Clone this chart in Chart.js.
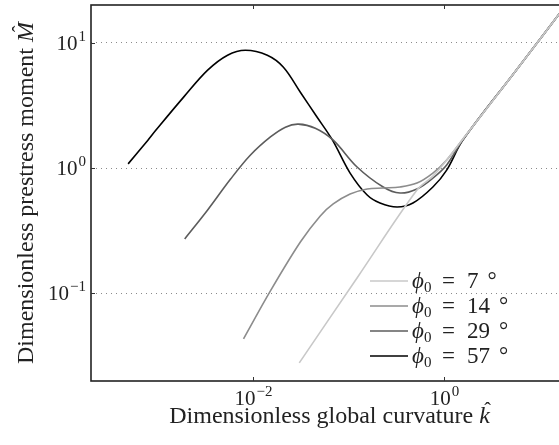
<!DOCTYPE html>
<html>
<head>
<meta charset="utf-8">
<script src="https://cdn.jsdelivr.net/npm/chart.js@4.4.0/dist/chart.umd.min.js"></script>
<style>
  html, body { margin: 0; padding: 0; background: #fff; overflow: hidden; }
  #wrap { width: 559px; height: 445px; overflow: hidden; }
</style>
</head>
<body>
<div id="wrap"><canvas id="chart" width="580" height="445"></canvas></div>
<script>
// Global curvature k and prestress moment M, one pair per phi0
const k7 = [0.0305, 0.126, 0.522, 0.767, 1.07, 1.6, 5.6, 20];
const m7 = [0.0279, 0.1365, 0.668, 0.863, 1.16, 1.72, 5.9, 21];

const k14 = [7.94e-3, 1.52e-2, 3.13e-2, 5.06e-2, 6.92e-2, 0.104, 0.157, 0.231, 0.347, 0.522, 0.767, 1.07, 1.6, 5.6, 20];
const m14 = [0.0434, 0.1047, 0.257, 0.415, 0.517, 0.621, 0.681, 0.693, 0.706, 0.759, 0.912, 1.16, 1.72, 5.9, 21];

const k29 = [1.92e-3, 3.34e-3, 5.81e-3, 9.39e-3, 1.52e-2, 2.18e-2, 2.98e-2, 4.49e-2, 6.92e-2, 0.123, 0.231, 0.347, 0.522, 0.767, 1.07, 1.6, 5.6, 20];
const m29 = [0.272, 0.463, 0.817, 1.27, 1.77, 2.12, 2.24, 2.08, 1.67, 1.02, 0.706, 0.632, 0.681, 0.832, 1.06, 1.7, 5.9, 21];

const k57 = [4.9e-4, 7.9e-4, 9.6e-4, 1.87e-3, 3.34e-3, 5.4e-3, 8.3e-3, 1.41e-2, 2.08e-2, 3.13e-2, 4.6e-2, 6.8e-2, 0.104, 0.157, 0.214, 0.323, 0.474, 0.767, 1.07, 1.58, 5.6, 20];
const m57 = [1.08, 1.67, 2.01, 3.68, 6.04, 7.95, 8.71, 7.95, 6.38, 4.03, 2.6, 1.67, 0.912, 0.609, 0.526, 0.489, 0.526, 0.706, 0.964, 1.67, 5.9, 21];

const phiLabels = ["7", "14", "29", "57"];
const phiColors = ["#c8c8c8", "#8c8c8c", "#5c5c5c", "#000000"];

// tick values and their exponents
const xTicks = [1e-2, 1];
const xTickExp = ["\u22122", "0"];
const yTicks = [0.1, 1, 10];
const yTickExp = ["\u22121", "0", "1"];

const serif = "'Liberation Serif', 'DejaVu Serif', serif";

function toPoints(ks, ms) {
  return ks.map((k, i) => ({ x: k, y: ms[i] }));
}

const datasets = [[k7, m7], [k14, m14], [k29, m29], [k57, m57]].map((s, i) => ({
  label: phiLabels[i],
  data: toPoints(s[0], s[1]),
  borderColor: phiColors[i],
  borderWidth: 1.6,
  pointRadius: 0,
  fill: false,
  tension: 0.35
}));

// draw "10" with a raised exponent
function drawPow(ctx, exp, x, base, align) {
  ctx.font = "21px " + serif;
  const w1 = ctx.measureText("10").width;
  ctx.font = "15px " + serif;
  const w2 = ctx.measureText(exp).width;
  let start = x;
  if (align === 'center') start = x - (w1 + w2) / 2;
  if (align === 'right') start = x - (w1 + w2);
  ctx.textAlign = 'left';
  ctx.textBaseline = 'alphabetic';
  ctx.font = "21px " + serif;
  ctx.fillText("10", start, base);
  ctx.font = "15px " + serif;
  ctx.fillText(exp, start + w1 + 1, base - 9);
}

// plain text followed by an italic symbol with a hat, centred on x
function drawTitle(ctx, text, sym, x, base) {
  ctx.textBaseline = 'alphabetic';
  ctx.textAlign = 'left';
  ctx.font = "24px " + serif;
  const w1 = ctx.measureText(text).width;
  ctx.font = "italic 24px " + serif;
  const w2 = ctx.measureText(sym).width;
  const start = x - (w1 + w2) / 2;
  ctx.fillStyle = '#222';
  ctx.font = "24px " + serif;
  ctx.fillText(text, start, base);
  ctx.font = "italic 24px " + serif;
  ctx.fillText(sym, start + w1, base);
  ctx.font = "20px " + serif;
  ctx.textAlign = 'center';
  ctx.fillText("\u02c6", start + w1 + w2 / 2 + 3, base - 6);
  ctx.textAlign = 'left';
}

const framePlugin = {
  id: 'frame',
  afterDatasetsDraw(chart) {
    const { ctx, chartArea: a, scales: { x, y } } = chart;
    ctx.save();
    ctx.strokeStyle = '#222';
    ctx.lineWidth = 1.6;
    ctx.strokeRect(a.left, a.top, a.right - a.left, a.bottom - a.top);

    // inward ticks
    ctx.lineWidth = 1;
    ctx.strokeStyle = '#333';
    xTicks.forEach(v => {
      const px = Math.round(x.getPixelForValue(v)) + 0.5;
      ctx.beginPath();
      ctx.moveTo(px, a.bottom); ctx.lineTo(px, a.bottom - 4);
      ctx.moveTo(px, a.top); ctx.lineTo(px, a.top + 4);
      ctx.stroke();
    });
    yTicks.forEach(v => {
      const py = Math.round(y.getPixelForValue(v)) + 0.5;
      ctx.beginPath();
      ctx.moveTo(a.left, py); ctx.lineTo(a.left + 4, py);
      ctx.stroke();
    });

    // tick labels
    ctx.fillStyle = '#222';
    xTicks.forEach((v, i) => drawPow(ctx, xTickExp[i], x.getPixelForValue(v), a.bottom + 24, 'center'));
    yTicks.forEach((v, i) => drawPow(ctx, yTickExp[i], a.left - 6, y.getPixelForValue(v) + 7, 'right'));

    // axis titles
    const cx = (a.left + a.right) / 2;
    const cy = (a.top + a.bottom) / 2;
    drawTitle(ctx, "Dimensionless global curvature ", "k", cx, a.bottom + 42);
    ctx.save();
    ctx.translate(33, cy);
    ctx.rotate(-Math.PI / 2);
    drawTitle(ctx, "Dimensionless prestress moment ", "M", 0, 0);
    ctx.restore();

    // legend
    chart.data.datasets.forEach((ds, i) => {
      const ly = 281 + i * 25;
      ctx.strokeStyle = ds.borderColor;
      ctx.lineWidth = 1.6;
      ctx.beginPath();
      ctx.moveTo(370, ly); ctx.lineTo(408, ly);
      ctx.stroke();
      ctx.fillStyle = '#222';
      ctx.textAlign = 'left';
      ctx.font = "italic 23px " + serif;
      ctx.fillText("\u03d5", 412, ly + 7);
      const wPhi = ctx.measureText("\u03d5").width;
      ctx.font = "15px " + serif;
      ctx.fillText("0", 412 + wPhi, ly + 11);
      ctx.font = "23px " + serif;
      ctx.fillText("=", 442, ly + 7);
      ctx.fillText(ds.label, 467, ly + 7);
      const wNum = ctx.measureText(ds.label).width;
      ctx.fillText("\u00b0", 467 + wNum + 9, ly + 7);
    });
    ctx.restore();
  }
};

new Chart(document.getElementById('chart'), {
  type: 'line',
  data: { datasets: datasets },
  plugins: [framePlugin],
  options: {
    responsive: false,
    animation: false,
    layout: { padding: { left: 0, top: 5, right: 12, bottom: 0 } },
    plugins: { legend: { display: false }, tooltip: { enabled: false } },
    scales: {
      x: {
        type: 'logarithmic',
        min: 2e-4,
        max: 20,
        afterBuildTicks: s => { s.ticks = xTicks.map(v => ({ value: v })); },
        afterFit: s => { s.height = 64; },
        ticks: { display: false },
        grid: { display: false },
        border: { display: false }
      },
      y: {
        type: 'logarithmic',
        min: 0.02,
        max: 20,
        afterBuildTicks: s => { s.ticks = yTicks.map(v => ({ value: v })); },
        afterFit: s => { s.width = 91; },
        ticks: { display: false },
        grid: { color: '#8a8a8a', lineWidth: 1, drawTicks: false },
        border: { display: false, dash: [1, 4] }
      }
    }
  }
});
</script>
</body>
</html>
